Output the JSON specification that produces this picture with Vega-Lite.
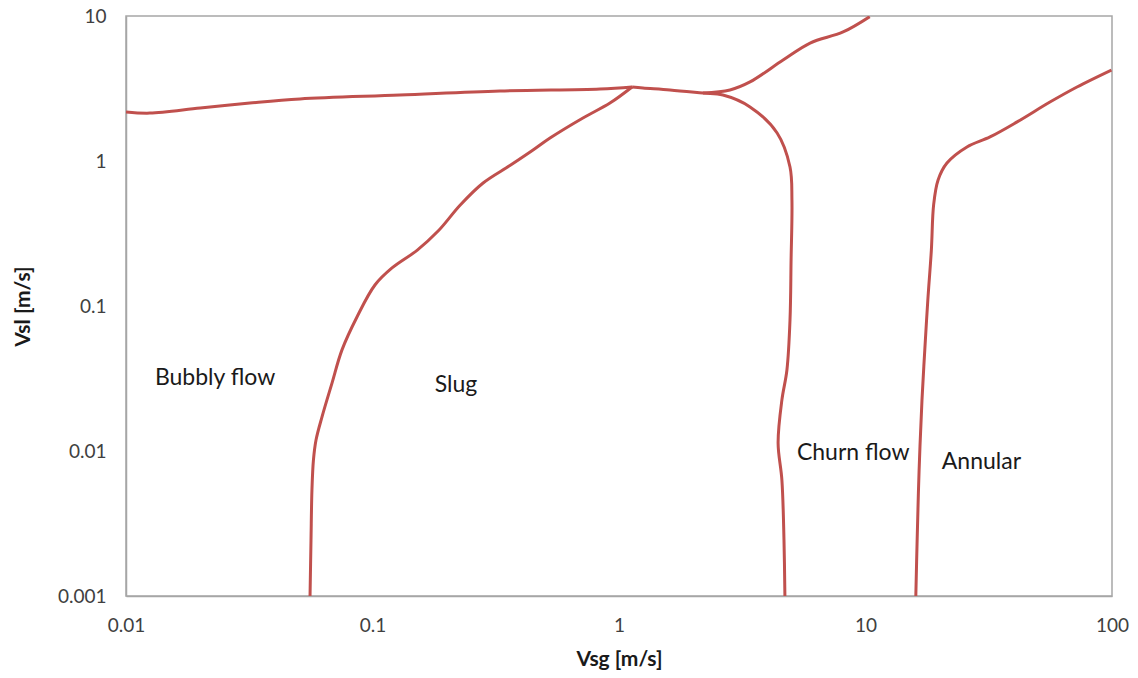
{
  "$schema": "https://vega.github.io/schema/vega-lite/v6.json",
  "autosize": "none",
  "width": 986,
  "height": 580,
  "padding": {"left": 126, "top": 16, "right": 26, "bottom": 82},
  "background": "white",
  "config": {
    "view": {"stroke": "#a6a6a6", "strokeWidth": 1.5},
    "font": "Lato",
    "axis": {
      "grid": false,
      "ticks": false,
      "domainColor": "#a6a6a6",
      "domainWidth": 1.5,
      "labelFont": "Lato",
      "labelFontSize": 19,
      "labelColor": "#404040",
      "labelFlush": false,
      "titleFont": "Lato",
      "titleFontSize": 21,
      "titleFontWeight": "bold",
      "titleColor": "#1a1a1a"
    }
  },
  "datasets": {
    "curves": [
      {"s": "A", "i": 1, "vsg": 0.0100, "vsl": 2.18},
      {"s": "A", "i": 2, "vsg": 0.0125, "vsl": 2.14},
      {"s": "A", "i": 3, "vsg": 0.0200, "vsl": 2.32},
      {"s": "A", "i": 4, "vsg": 0.0318, "vsl": 2.51},
      {"s": "A", "i": 5, "vsg": 0.0508, "vsl": 2.68},
      {"s": "A", "i": 6, "vsg": 0.129, "vsl": 2.85},
      {"s": "A", "i": 7, "vsg": 0.329, "vsl": 3.04},
      {"s": "A", "i": 8, "vsg": 0.837, "vsl": 3.14},
      {"s": "A", "i": 9, "vsg": 1.13, "vsl": 3.24},

      {"s": "B", "i": 1, "vsg": 0.0558, "vsl": 0.001},
      {"s": "B", "i": 2, "vsg": 0.0563, "vsl": 0.00243},
      {"s": "B", "i": 3, "vsg": 0.0568, "vsl": 0.00538},
      {"s": "B", "i": 4, "vsg": 0.0576, "vsl": 0.00867},
      {"s": "B", "i": 5, "vsg": 0.0590, "vsl": 0.0119},
      {"s": "B", "i": 6, "vsg": 0.0624, "vsl": 0.0172},
      {"s": "B", "i": 7, "vsg": 0.0685, "vsl": 0.0294},
      {"s": "B", "i": 8, "vsg": 0.0752, "vsl": 0.0498},
      {"s": "B", "i": 9, "vsg": 0.0865, "vsl": 0.084},
      {"s": "B", "i": 10, "vsg": 0.1023, "vsl": 0.1396},
      {"s": "B", "i": 11, "vsg": 0.120, "vsl": 0.183},
      {"s": "B", "i": 12, "vsg": 0.152, "vsl": 0.243},
      {"s": "B", "i": 13, "vsg": 0.185, "vsl": 0.330},
      {"s": "B", "i": 14, "vsg": 0.227, "vsl": 0.497},
      {"s": "B", "i": 15, "vsg": 0.281, "vsl": 0.705},
      {"s": "B", "i": 16, "vsg": 0.361, "vsl": 0.93},
      {"s": "B", "i": 17, "vsg": 0.448, "vsl": 1.19},
      {"s": "B", "i": 18, "vsg": 0.525, "vsl": 1.44},
      {"s": "B", "i": 19, "vsg": 0.714, "vsl": 1.98},
      {"s": "B", "i": 20, "vsg": 0.919, "vsl": 2.51},
      {"s": "B", "i": 21, "vsg": 1.13, "vsl": 3.24},

      {"s": "C", "i": 1, "vsg": 1.13, "vsl": 3.24},
      {"s": "C", "i": 2, "vsg": 1.25, "vsl": 3.19},
      {"s": "C", "i": 3, "vsg": 1.61, "vsl": 3.09},
      {"s": "C", "i": 4, "vsg": 2.19, "vsl": 2.94},
      {"s": "C", "i": 5, "vsg": 2.64, "vsl": 2.85},
      {"s": "C", "i": 6, "vsg": 3.40, "vsl": 2.36},
      {"s": "C", "i": 7, "vsg": 4.38, "vsl": 1.56},
      {"s": "C", "i": 8, "vsg": 4.94, "vsl": 0.91},
      {"s": "C", "i": 9, "vsg": 5.03, "vsl": 0.538},
      {"s": "C", "i": 10, "vsg": 4.99, "vsl": 0.2075},
      {"s": "C", "i": 11, "vsg": 4.94, "vsl": 0.080},
      {"s": "C", "i": 12, "vsg": 4.80, "vsl": 0.0362},
      {"s": "C", "i": 13, "vsg": 4.58, "vsl": 0.0225},
      {"s": "C", "i": 14, "vsg": 4.42, "vsl": 0.01135},
      {"s": "C", "i": 15, "vsg": 4.58, "vsl": 0.0063},
      {"s": "C", "i": 16, "vsg": 4.67, "vsl": 0.00243},
      {"s": "C", "i": 17, "vsg": 4.71, "vsl": 0.001},

      {"s": "D", "i": 1, "vsg": 2.19, "vsl": 2.94},
      {"s": "D", "i": 2, "vsg": 2.82, "vsl": 3.09},
      {"s": "D", "i": 3, "vsg": 3.40, "vsl": 3.51},
      {"s": "D", "i": 4, "vsg": 4.63, "vsl": 4.97},
      {"s": "D", "i": 5, "vsg": 5.96, "vsl": 6.51},
      {"s": "D", "i": 6, "vsg": 8.11, "vsl": 7.76},
      {"s": "D", "i": 7, "vsg": 10.4, "vsl": 9.9},

      {"s": "E", "i": 1, "vsg": 16.0, "vsl": 0.001},
      {"s": "E", "i": 2, "vsg": 16.2, "vsl": 0.00243},
      {"s": "E", "i": 3, "vsg": 16.5, "vsl": 0.0074},
      {"s": "E", "i": 4, "vsg": 16.95, "vsl": 0.0225},
      {"s": "E", "i": 5, "vsg": 17.4, "vsl": 0.0498},
      {"s": "E", "i": 6, "vsg": 17.9, "vsl": 0.11},
      {"s": "E", "i": 7, "vsg": 18.5, "vsl": 0.243},
      {"s": "E", "i": 8, "vsg": 18.9, "vsl": 0.50},
      {"s": "E", "i": 9, "vsg": 19.7, "vsl": 0.74},
      {"s": "E", "i": 10, "vsg": 21.4, "vsl": 0.968},
      {"s": "E", "i": 11, "vsg": 25.8, "vsl": 1.25},
      {"s": "E", "i": 12, "vsg": 32.0, "vsl": 1.465},
      {"s": "E", "i": 13, "vsg": 41.2, "vsl": 1.86},
      {"s": "E", "i": 14, "vsg": 56.0, "vsl": 2.55},
      {"s": "E", "i": 15, "vsg": 72.1, "vsl": 3.24},
      {"s": "E", "i": 16, "vsg": 99.5, "vsl": 4.24}
    ],
    "labels": [
      {"name": "Bubbly flow", "vsg": 0.0131, "vsl": 0.0319},
      {"name": "Slug", "vsg": 0.179, "vsl": 0.0285},
      {"name": "Churn flow", "vsg": 5.27, "vsl": 0.00969},
      {"name": "Annular", "vsg": 20.4, "vsl": 0.0084}
    ]
  },
  "layer": [
    {
      "data": {"name": "curves"},
      "mark": {"type": "line", "color": "#c0504d", "strokeWidth": 3, "interpolate": "catmull-rom", "clip": true},
      "encoding": {
        "x": {
          "field": "vsg", "type": "quantitative",
          "scale": {"type": "log", "domain": [0.01, 100], "nice": false},
          "axis": {"values": [0.01, 0.1, 1, 10, 100], "format": "~g", "title": "Vsg [m/s]", "labelPadding": 20, "titlePadding": 13}
        },
        "y": {
          "field": "vsl", "type": "quantitative",
          "scale": {"type": "log", "domain": [0.001, 10], "nice": false},
          "axis": {"values": [0.001, 0.01, 0.1, 1, 10], "format": "~g", "title": "Vsl [m/s]", "labelPadding": 20, "titlePadding": 24}
        },
        "detail": {"field": "s"},
        "order": {"field": "i", "type": "quantitative"}
      }
    },
    {
      "data": {"name": "labels"},
      "mark": {"type": "text", "align": "left", "baseline": "middle", "font": "Lato", "fontSize": 23, "color": "#1a1a1a"},
      "encoding": {
        "x": {"field": "vsg", "type": "quantitative"},
        "y": {"field": "vsl", "type": "quantitative"},
        "text": {"field": "name"}
      }
    }
  ]
}
